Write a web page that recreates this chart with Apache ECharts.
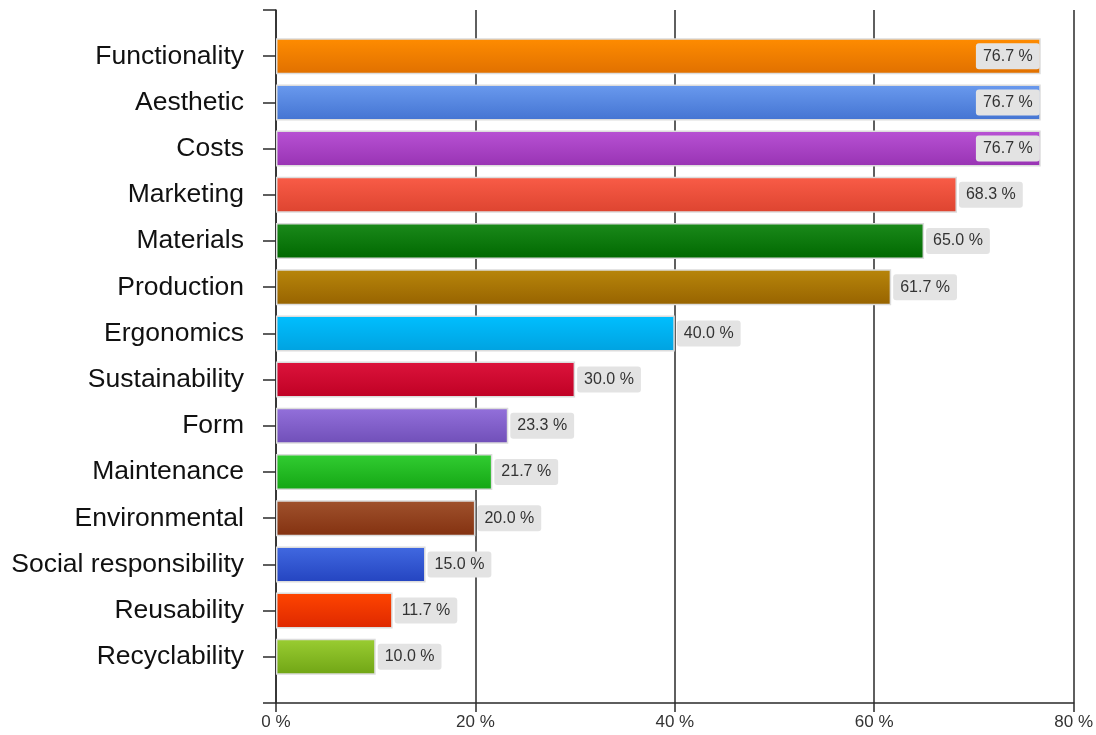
<!DOCTYPE html>
<html>
<head>
<meta charset="utf-8">
<script src="https://cdn.jsdelivr.net/npm/echarts@6/dist/echarts.min.js"></script>
<style>
  html, body { margin: 0; padding: 0; background: #fff; }
  #chart { width: 1096px; height: 735px; }
</style>
</head>
<body>
<div id="chart"></div>
<script>
// Criteria named by respondents (share of answers, %)
const categories = [
  'Functionality', 'Aesthetic', 'Costs', 'Marketing', 'Materials', 'Production',
  'Ergonomics', 'Sustainability', 'Form', 'Maintenance', 'Environmental',
  'Social responsibility', 'Reusability', 'Recyclability'
];
const shares = [76.7, 76.7, 76.7, 68.3, 65.0, 61.7, 40.0, 30.0, 23.3, 21.7, 20.0, 15.0, 11.7, 10.0];
const xTicks = { min: 0, max: 80, step: 20 };

// Gradient stops per bar: [top, bottom]
const barColors = [
  ['#ff8c00', '#e07000'], ['#6a9aee', '#4474d2'], ['#b852d4', '#9833b3'],
  ['#f95c47', '#dd4430'], ['#1b8a1b', '#006800'], ['#b8860b', '#976300'],
  ['#00bfff', '#00a2e0'], ['#dc143c', '#bf0024'], ['#9370db', '#704fb8'],
  ['#32cd32', '#14a614'], ['#a0522d', '#833110'], ['#4169e1', '#2444c0'],
  ['#ff4500', '#de2800'], ['#9acd32', '#70a515']
];

const FONT = '"Liberation Sans", Arial, sans-serif';
const AXIS_COLOR = '#2a2a2a';

// blank slots at both ends give the half-band padding above and below the bars
const yData = [''].concat(categories, ['']);

const barData = ['-'].concat(shares.map(function (v, i) {
  const c = barColors[i];
  // labels that would run past the axis end sit inside the bar
  const inside = v > xTicks.max - 7;
  return {
    value: v,
    itemStyle: {
      color: new echarts.graphic.LinearGradient(0, 0, 0, 1, [
        { offset: 0, color: c[0] },
        { offset: 1, color: c[1] }
      ])
    },
    label: {
      position: inside ? 'insideRight' : 'right',
      distance: inside ? 1 : 2
    }
  };
}), ['-']);

const chart = echarts.init(document.getElementById('chart'), null, { renderer: 'canvas' });
chart.setOption({
  animation: false,
  backgroundColor: '#fff',
  grid: { left: 276, right: 21, top: 10, bottom: 32, containLabel: false },
  xAxis: {
    type: 'value',
    min: xTicks.min,
    max: xTicks.max,
    interval: xTicks.step,
    axisLine: { show: true, lineStyle: { color: AXIS_COLOR, width: 1.5 } },
    axisTick: { show: true, length: 9, lineStyle: { color: AXIS_COLOR, width: 1.5 } },
    splitLine: { show: true, lineStyle: { color: AXIS_COLOR, width: 1.5 } },
    axisLabel: {
      formatter: '{value} %',
      color: '#333',
      fontFamily: FONT,
      fontSize: 17,
      margin: 11
    }
  },
  yAxis: {
    type: 'category',
    data: yData,
    inverse: true,
    boundaryGap: false,
    axisLine: { show: true, lineStyle: { color: AXIS_COLOR, width: 1.5 } },
    axisTick: { show: true, length: 13, interval: 0, lineStyle: { color: AXIS_COLOR, width: 1.5 } },
    splitLine: { show: false },
    axisLabel: {
      interval: 0,
      color: '#111',
      fontFamily: FONT,
      fontSize: 26.5,
      margin: 32
    }
  },
  series: [{
    type: 'bar',
    data: barData,
    barWidth: 36,
    itemStyle: { borderColor: '#dcdcdc', borderWidth: 1.5 },
    label: {
      show: true,
      formatter: function (p) { return p.value.toFixed(1) + ' %'; },
      color: '#333',
      fontFamily: FONT,
      fontSize: 16,
      lineHeight: 16,
      backgroundColor: '#e3e3e3',
      borderRadius: 3,
      padding: [5, 7, 5, 7]
    }
  }]
});
</script>
</body>
</html>
